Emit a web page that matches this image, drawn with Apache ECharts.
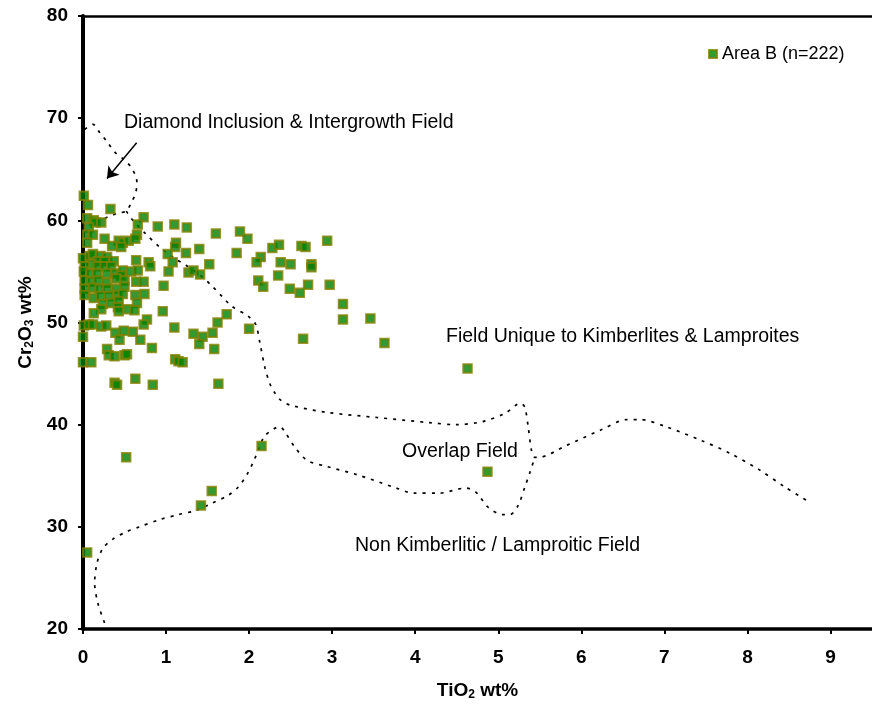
<!DOCTYPE html>
<html>
<head>
<meta charset="utf-8">
<script src="https://cdn.jsdelivr.net/npm/echarts@6/dist/echarts.min.js"></script>
<style>
  html, body { margin: 0; padding: 0; background: #fff; }
  #chart { width: 872px; height: 706px; }
</style>
</head>
<body>
<div id="chart"></div>
<script>
// Garnet analyses, Area B: TiO2 wt% and Cr2O3 wt% (same order in both lists)
const areaBTiO2 = [
  0.01, 0.06, 0.33, 0.73, 0.66, 0.90, 1.10, 1.25, 0.05, 0.13, 0.15, 0.22, 0.07, 0.05, 0.12, 0.05,
  0.26, 0.65, 0.43, 0.48, 0.55, 0.63, 0.35, 0.46, 1.12, 1.11, 1.02, 1.08, 1.24, 1.03, 0.00, 0.08,
  0.12, 0.21, 0.29, 0.37, 0.18, 0.26, 0.10, 0.02, 0.01, 0.18, 0.26, 0.34, 0.09, 0.17, 0.29, 0.39,
  0.48, 0.46, 0.58, 0.66, 0.64, 0.79, 0.81, 0.02, 0.10, 0.18, 0.28, 0.40, 0.50, 0.02, 0.12, 0.20,
  0.29, 0.40, 0.50, 0.64, 0.73, 0.97, 0.02, 0.13, 0.21, 0.31, 0.42, 0.48, 0.63, 0.74, 0.24, 0.34,
  0.43, 0.65, 0.22, 0.42, 0.43, 0.54, 0.62, 0.13, 0.96, 0.77, 0.73, 1.10, 0.01, 0.07, 0.12, 0.22,
  0.28, 0.00, 0.39, 0.49, 0.60, 0.44, 0.69, 0.83, 0.29, 0.31, 0.38, 0.50, 0.53, 0.00, 0.10, 1.11,
  1.15, 1.20, 0.38, 0.41, 0.63, 0.84, 1.63, 0.52, 0.05, 1.60, 1.89, 1.98, 1.40, 1.85, 2.28, 2.36,
  2.63, 2.68, 2.94, 2.14, 2.09, 2.38, 2.50, 2.75, 2.75, 1.52, 1.27, 1.33, 1.41, 2.11, 2.17, 2.35,
  2.49, 2.61, 2.71, 2.97, 3.13, 3.13, 3.46, 3.63, 1.73, 1.62, 1.33, 1.44, 1.56, 1.40, 1.58, 2.00,
  2.65, 4.63, 4.87, 2.15, 1.55, 1.42
];
const areaBCr2O3 = [
  62.4, 61.5, 61.1, 60.3, 59.6, 59.4, 59.6, 59.3, 60.2, 60.0, 59.8, 59.8, 59.3, 58.6, 58.6, 57.8,
  58.2, 58.6, 58.0, 57.8, 58.0, 58.2, 57.5, 57.4, 57.8, 57.4, 56.7, 55.9, 56.8, 55.0, 56.3, 56.5,
  56.7, 56.5, 56.4, 56.0, 56.0, 56.0, 55.7, 55.5, 55.0, 55.5, 55.5, 55.5, 54.8, 54.8, 54.8, 54.8,
  55.1, 54.6, 55.0, 55.1, 56.1, 55.9, 55.5, 54.1, 54.0, 54.1, 53.9, 54.3, 54.1, 53.3, 53.4, 53.3,
  53.3, 53.3, 53.5, 54.0, 54.0, 53.6, 52.7, 52.4, 52.6, 52.6, 52.7, 52.8, 52.7, 52.8, 51.8, 51.9,
  52.1, 51.9, 51.3, 51.5, 51.1, 51.3, 51.2, 50.9, 51.1, 50.3, 49.8, 49.5, 49.7, 49.8, 49.8, 49.6,
  49.7, 48.6, 49.0, 49.2, 49.1, 48.3, 48.3, 47.5, 47.4, 46.8, 46.7, 46.8, 46.9, 46.1, 46.1, 46.4,
  46.2, 46.1, 44.1, 43.9, 44.5, 43.9, 44.0, 36.8, 27.5, 58.7, 58.9, 58.2, 57.2, 56.8, 57.3, 57.6,
  57.5, 57.4, 58.0, 56.4, 55.9, 55.9, 55.7, 55.7, 55.4, 55.7, 54.9, 55.1, 54.7, 54.1, 53.5, 54.6,
  53.3, 52.9, 53.7, 53.7, 51.8, 50.3, 50.4, 48.0, 50.8, 50.0, 48.9, 48.6, 49.0, 47.9, 47.4, 49.4,
  48.4, 45.5, 35.4, 37.9, 33.5, 32.1
];
const seriesName = 'Area B (n=222)';

// Field boundaries, [TiO2, Cr2O3]
const diamondFieldEdge = [
  [0.02, 68.9], [0.12, 69.4], [0.20, 68.6], [0.29, 67.7], [0.38, 66.7], [0.50, 65.9], [0.58, 65.2],
  [0.64, 64.2], [0.65, 63.5], [0.63, 62.6], [0.58, 61.7], [0.52, 60.9], [0.42, 60.7], [0.29, 60.3],
  [0.24, 60.1]
];
const kimberliteFieldEdge = [
  [0.52, 60.9], [0.60, 60.0], [0.74, 58.8], [0.92, 57.4], [1.10, 56.3], [1.24, 55.6], [1.40, 54.7],
  [1.55, 53.6], [1.68, 52.5], [1.79, 51.6], [1.99, 50.6], [2.08, 49.8], [2.13, 48.0], [2.19, 45.6],
  [2.25, 44.0], [2.31, 43.1], [2.38, 42.4], [2.50, 41.9], [2.94, 41.2], [3.54, 40.7], [4.17, 40.2],
  [4.49, 40.0], [4.81, 40.3], [5.08, 41.1], [5.27, 42.1], [5.32, 41.7], [5.36, 39.8], [5.40, 37.5],
  [5.44, 36.8], [5.48, 36.8], [5.83, 38.0], [6.24, 39.5], [6.55, 40.5], [6.71, 40.5], [7.02, 39.8],
  [7.43, 38.5], [7.79, 37.2], [8.14, 35.6], [8.45, 33.9], [8.75, 32.4]
];
const nonKimberliteFieldEdge = [
  [0.26, 20.6], [0.18, 22.5], [0.14, 24.5], [0.17, 26.5], [0.24, 27.9], [0.36, 28.8], [0.52, 29.5],
  [0.68, 30.0], [0.92, 30.7], [1.15, 31.2], [1.36, 31.6], [1.55, 32.3], [1.75, 33.1], [1.87, 33.9],
  [1.98, 35.2], [2.07, 36.7], [2.18, 38.8], [2.30, 39.6], [2.37, 39.8], [2.43, 39.3], [2.55, 37.8],
  [2.70, 36.5], [2.94, 35.9], [3.30, 35.1], [3.77, 33.8], [3.98, 33.3], [4.29, 33.3], [4.61, 33.8],
  [4.73, 33.4], [4.88, 31.9], [5.05, 31.2], [5.14, 31.2], [5.24, 32.1], [5.32, 33.9], [5.38, 35.3],
  [5.44, 36.8]
];
// Arrow pointing into the diamond inclusion field
const diamondArrow = [[0.646, 67.6], [0.289, 64.1]];

const fieldLabels = [
  'Diamond Inclusion & Intergrowth Field',
  'Field Unique to Kimberlites & Lamproites',
  'Overlap Field',
  'Non Kimberlitic / Lamproitic Field'
];

const FONT = '"Liberation Sans", Arial, Helvetica, sans-serif';
const boundaryStyle = { color: '#000', width: 1.7, type: [3, 6] };

function boundary(points) {
  return {
    type: 'line',
    data: points,
    symbol: 'none',
    smooth: 0.3,
    silent: true,
    lineStyle: boundaryStyle,
    z: 1
  };
}

function fieldText(text, x, y) {
  return {
    type: 'text',
    x: x,
    y: y,
    silent: true,
    style: {
      text: text,
      fill: '#000',
      font: '19.5px ' + FONT,
      align: 'left',
      verticalAlign: 'middle'
    }
  };
}

const chart = echarts.init(document.getElementById('chart'), null, { renderer: 'canvas' });

const subRich = {
  a: { fontFamily: FONT, fontWeight: 'bold', fontSize: 19, color: '#000' },
  s: { fontFamily: FONT, fontWeight: 'bold', fontSize: 12, color: '#000', padding: [9, 0, 0, 0] }
};

chart.setOption({
  animation: false,
  backgroundColor: '#fff',
  grid: { left: 83, top: 16, width: 798, height: 613 },
  legend: {
    data: [seriesName],
    left: 703,
    top: 40,
    icon: 'rect',
    itemWidth: 8,
    itemHeight: 8,
    textStyle: { fontFamily: FONT, fontSize: 18, color: '#000' }
  },
  xAxis: [{
    type: 'value',
    min: 0,
    max: 9.5,
    interval: 1,
    name: '{a|TiO}{s|2}{a| wt%}',
    nameLocation: 'middle',
    nameGap: 51,
    nameTextStyle: { rich: subRich },
    axisLine: { onZero: false, lineStyle: { color: '#000', width: 3.5 } },
    axisTick: { show: true, length: 5, lineStyle: { color: '#000', width: 2 } },
    axisLabel: {
      margin: 19,
      showMaxLabel: false,
      fontFamily: FONT, fontWeight: 'bold', fontSize: 19, color: '#000'
    },
    splitLine: { show: false }
  }, {
    type: 'value',
    position: 'top',
    min: 0,
    max: 9.5,
    axisLine: { show: true, onZero: false, lineStyle: { color: '#000', width: 2.5 } },
    axisTick: { show: false },
    axisLabel: { show: false },
    splitLine: { show: false }
  }],
  yAxis: {
    type: 'value',
    min: 20,
    max: 80,
    interval: 10,
    name: '{a|Cr}{s|2}{a|O}{s|3}{a| wt%}',
    nameLocation: 'middle',
    nameRotate: 90,
    nameGap: 46,
    nameTextStyle: { rich: subRich },
    axisLine: { show: true, onZero: false, lineStyle: { color: '#000', width: 4 } },
    axisTick: { show: true, length: 5, lineStyle: { color: '#000', width: 2 } },
    axisLabel: {
      margin: 15,
      fontFamily: FONT, fontWeight: 'bold', fontSize: 19, color: '#000'
    },
    splitLine: { show: false }
  },
  series: [
    boundary(diamondFieldEdge),
    boundary(kimberliteFieldEdge),
    boundary(nonKimberliteFieldEdge),
    {
      type: 'lines',
      coordinateSystem: 'cartesian2d',
      silent: true,
      symbol: ['none', 'arrow'],
      symbolSize: 11,
      lineStyle: { color: '#000', width: 1.5, opacity: 1 },
      data: [{ coords: diamondArrow }],
      z: 3
    },
    {
      name: seriesName,
      type: 'scatter',
      symbol: 'rect',
      symbolSize: 8.5,
      itemStyle: { color: '#008000', borderColor: '#808000', borderWidth: 2 },
      data: areaBTiO2.map((t, i) => [t, areaBCr2O3[i]]),
      z: 4
    }
  ],
  graphic: [
    fieldText(fieldLabels[0], 124, 123),
    fieldText(fieldLabels[1], 446, 337),
    fieldText(fieldLabels[2], 402, 452),
    fieldText(fieldLabels[3], 355, 546)
  ]
});
</script>
</body>
</html>
